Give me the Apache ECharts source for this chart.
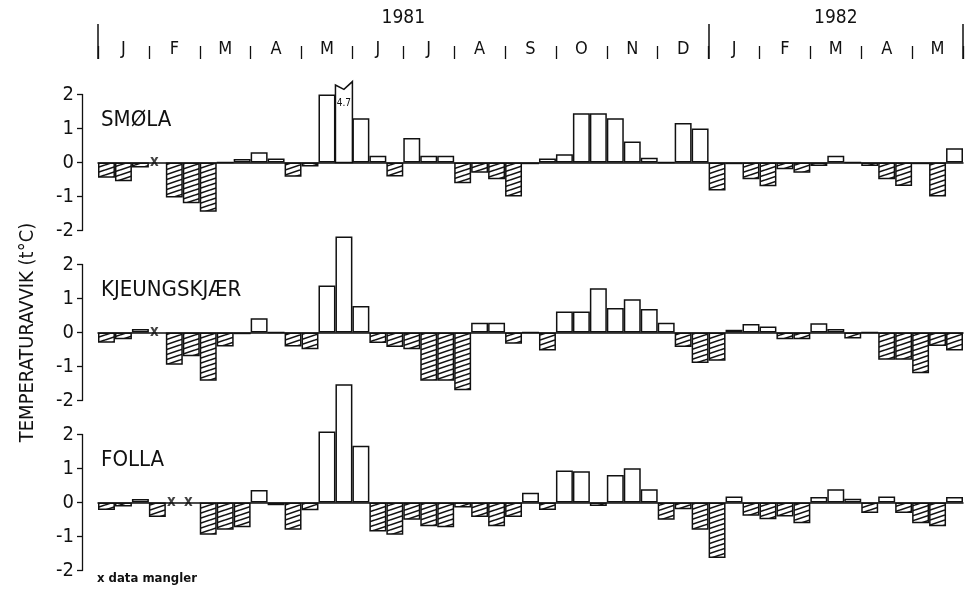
<!DOCTYPE html>
<html><head><meta charset="utf-8">
<script src="https://cdn.jsdelivr.net/npm/echarts@6/dist/echarts.min.js"></script>
<style>html,body{margin:0;padding:0;background:#fff}#c{width:966px;height:597px}</style>
</head><body><div id="c"></div>
<script>
// ---------- data ----------
const MONTHS = ['J','F','M','A','M','J','J','A','S','O','N','D','J','F','M','A','M'];
const YEARS = ['1981','1982'];
const YEAR_MONTHS = [12, 5];
const PERIODS_PER_MONTH = 3;
const STATIONS = ['SMØLA','KJEUNGSKJÆR','FOLLA'];
const Y_TICKS = [-2, -1, 0, 1, 2];
const SMOLA = [-0.45,-0.55,-0.15,null,-1.03,-1.2,-1.45,0,0.1,0.3,
  0.12,-0.42,-0.12,2.0,4.7,1.3,0.2,-0.41,0.72,0.2,
  0.2,-0.61,-0.3,-0.49,-1.0,-0.05,0.12,0.24,1.45,1.45,
  1.3,0.62,0.14,0,1.16,1.0,-0.82,-0.05,-0.49,-0.7,
  -0.2,-0.3,-0.1,0.2,0,-0.1,-0.49,-0.69,-0.05,-1.0,
  0.42];
const KJEUNGSKJAER = [-0.3,-0.2,0.1,null,-0.95,-0.7,-1.42,-0.41,-0.05,0.42,
  0,-0.41,-0.49,1.38,2.82,0.78,-0.31,-0.43,-0.49,-1.42,
  -1.42,-1.7,0.29,0.29,-0.33,0,-0.53,0.62,0.62,1.3,
  0.72,0.98,0.69,0.29,-0.43,-0.9,-0.83,0.08,0.25,0.18,
  -0.2,-0.2,0.27,0.1,-0.18,0,-0.8,-0.8,-1.2,-0.4,
  -0.53];
const FOLLA = [-0.22,-0.12,0.1,-0.43,null,null,-0.95,-0.8,-0.73,0.37,
  -0.08,-0.8,-0.23,2.09,3.48,1.67,-0.85,-0.95,-0.51,-0.7,
  -0.73,-0.15,-0.43,-0.7,-0.43,0.29,-0.22,0.94,0.92,-0.1,
  0.81,1.01,0.39,-0.51,-0.2,-0.8,-1.63,0.18,-0.39,-0.49,
  -0.41,-0.61,0.16,0.39,0.11,-0.31,0.18,-0.31,-0.61,-0.7,
  0.16];
const SERIES_VALUES = [SMOLA, KJEUNGSKJAER, FOLLA];
const BREAK_THRESHOLD = 4;      // values above this are drawn as a broken bar
const BREAK_TOP_LEFT = 2.28, BREAK_NOTCH = 2.15, BREAK_TOP_RIGHT = 2.38, BREAK_LABEL_AT = 1.75;
const MISSING_MARK = 'x';
const NOTE = 'x data mangler';
const Y_NAME = 'TEMPERATURAVVIK (t°C)';

// ---------- build ----------
const FONT = '"DejaVu Sans Condensed","Liberation Sans Narrow","DejaVu Sans",sans-serif';
const INK = '#111';
const N = MONTHS.length * PERIODS_PER_MONTH;
const PERIODS = Array.from({length: N}, (_, i) => String(i));

function hatchCanvas(){
  const w = 15, h = 5;
  const c = document.createElement('canvas'); c.width = w; c.height = h;
  const g = c.getContext('2d');
  g.fillStyle = '#fff'; g.fillRect(0, 0, w, h);
  g.strokeStyle = INK; g.lineWidth = 1.6;
  for (let k = -1; k <= 1; k++) { g.beginPath(); g.moveTo(0, h + k*h); g.lineTo(w, k*h); g.stroke(); }
  return c;
}
const HATCH = {image: hatchCanvas(), repeat: 'repeat'};

const gridTops = [94.5, 264.5, 434.5];
const grids = gridTops.map(t => ({left: 98, right: 3, top: t, height: 136}));
grids.push({left: 98, right: 3, top: 24, height: 35});

const xAxes = gridTops.map((t, gi) => ({
  type: 'category', gridIndex: gi, data: PERIODS, boundaryGap: true,
  axisLine: {show: true, onZero: true, lineStyle: {color: INK, width: 1.5}},
  axisTick: {show: false}, axisLabel: {show: false}, splitLine: {show: false}
}));
const yearBounds = [0]; YEAR_MONTHS.forEach(m => yearBounds.push(yearBounds[yearBounds.length-1] + m));
const yearCenters = YEAR_MONTHS.map((m, i) => yearBounds[i] + m/2);
xAxes.push({
  type: 'category', gridIndex: 3, data: MONTHS, position: 'bottom', boundaryGap: true,
  axisLine: {show: false},
  axisTick: {show: true, inside: true, length: 13, lineStyle: {color: INK, width: 1.3}},
  axisLabel: {show: true, inside: true, margin: 1, fontSize: 18, color: INK, fontFamily: FONT, interval: 0},
  splitLine: {show: false}
});
xAxes.push({
  type: 'value', gridIndex: 3, min: 0, max: MONTHS.length, position: 'bottom',
  axisLine: {show: false},
  axisTick: {show: true, inside: true, length: 35, customValues: yearBounds, lineStyle: {color: INK, width: 1.5}},
  axisLabel: {show: false}, splitLine: {show: false}
});
xAxes.push({
  type: 'value', gridIndex: 3, min: 0, max: MONTHS.length, position: 'top',
  axisLine: {show: false}, axisTick: {show: false}, splitLine: {show: false},
  axisLabel: {show: true, customValues: yearCenters, margin: -4, fontSize: 19, color: INK, fontFamily: FONT,
    formatter: v => YEARS[yearCenters.indexOf(v)] || ''}
});

const yAxes = gridTops.map((t, gi) => ({
  type: 'value', gridIndex: gi, min: Y_TICKS[0], max: Y_TICKS[Y_TICKS.length-1], interval: 1, offset: 16,
  axisLine: {show: true, lineStyle: {color: INK, width: 1.3}},
  axisTick: {show: true, length: 5, lineStyle: {color: INK, width: 1.3}},
  axisLabel: {show: true, margin: 8, fontSize: 20, color: INK, fontFamily: FONT},
  splitLine: {show: false},
  name: gi === 1 ? Y_NAME : '', nameLocation: 'middle', nameGap: 44,
  nameTextStyle: {fontSize: 20, color: INK, fontFamily: FONT}
}));
yAxes.push({type: 'value', gridIndex: 3, show: false, min: 0, max: 1});

const series = [];
SERIES_VALUES.forEach((vals, gi) => {
  series.push({
    type: 'bar', xAxisIndex: gi, yAxisIndex: gi, barCategoryGap: '0%', clip: false, silent: true,
    itemStyle: {borderColor: INK, borderWidth: 1.5},
    data: vals.map(v => (v === null || v > BREAK_THRESHOLD) ? null :
      {value: v, itemStyle: {color: v >= 0 ? '#fff' : HATCH}})
  });
  const missing = [];
  vals.forEach((v, i) => { if (v === null) missing.push([i, 0]); });
  series.push({
    type: 'scatter', xAxisIndex: gi, yAxisIndex: gi, data: missing, symbolSize: 1, silent: true,
    itemStyle: {color: 'rgba(0,0,0,0)'},
    label: {show: true, position: 'inside', formatter: MISSING_MARK, offset: [-3, 0], fontSize: 15,
      fontWeight: 'bold', color: INK, fontFamily: FONT}
  });
  const broken = [];
  vals.forEach((v, i) => { if (v !== null && v > BREAK_THRESHOLD) broken.push([i, v]); });
  if (broken.length) series.push({
    type: 'custom', xAxisIndex: gi, yAxisIndex: gi, data: broken, silent: true,
    renderItem(params, api) {
      const i = api.value(0), v = api.value(1);
      const w = api.size([1, 0])[0];
      const p0 = api.coord([i, 0]);
      const pl = api.coord([i, BREAK_TOP_LEFT]), pm = api.coord([i, BREAK_NOTCH]), pr = api.coord([i, BREAK_TOP_RIGHT]);
      const lab = api.coord([i, BREAK_LABEL_AT]);
      const x0 = p0[0] - w/2, x1 = p0[0] + w/2;
      return {type: 'group', children: [
        {type: 'polygon', shape: {points: [[x0, p0[1]], [x0, pl[1]], [p0[0], pm[1]], [x1, pr[1]], [x1, p0[1]]]},
          style: {fill: '#fff', stroke: INK, lineWidth: 1.5}},
        {type: 'text', style: {text: String(v), x: p0[0], y: lab[1], align: 'center', verticalAlign: 'middle',
          fontSize: 10, fill: INK, fontFamily: FONT}}
      ]};
    }
  });
});

const titleTops = [109, 279, 449];
const titles = STATIONS.map((s, i) => ({
  text: s, left: 101, top: titleTops[i], padding: 0,
  textStyle: {fontSize: 22, fontWeight: 'normal', color: INK, fontFamily: FONT}
}));
titles.push({text: NOTE, left: 97, top: 572, padding: 0,
  textStyle: {fontSize: 13, fontWeight: 'bold', color: INK, fontFamily: FONT}});

const chart = echarts.init(document.getElementById('c'), null, {renderer: 'canvas'});
chart.setOption({
  animation: false, backgroundColor: '#fff',
  title: titles, grid: grids, xAxis: xAxes, yAxis: yAxes, series
});
</script></body></html>
